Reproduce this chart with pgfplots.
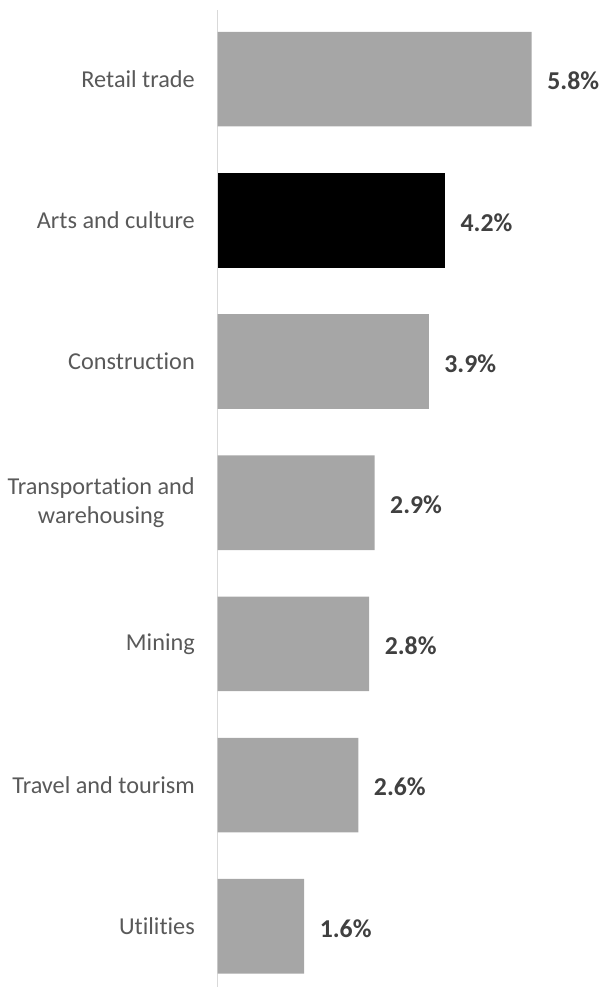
\documentclass[border=0pt]{standalone}
\usepackage{pgfplots}
\pgfplotsset{compat=1.18}
\usepackage{fontspec}
\setmainfont{Carlito}[Ligatures={NoCommon}]
\definecolor{bargray}{HTML}{A6A6A6}
\definecolor{labgray}{HTML}{595959}
\definecolor{valgray}{HTML}{404040}
\definecolor{axgray}{HTML}{D9D9D9}
\begin{document}
\begin{tikzpicture}
\path[use as bounding box] (0pt,0pt) rectangle (450.75pt,740.25pt);
\begin{axis}[
  at={(163.125pt,0pt)}, anchor=south west,
  scale only axis,
  width=286.875pt, height=732.75pt,
  xmin=0, xmax=7.06,
  ymin=-0.43, ymax=6.49,
  xbar, bar width=0.67, bar shift=0pt,
  axis x line=none,
  axis y line*=left,
  y axis line style={draw=axgray, line width=1pt, -},
  ytick={0,1,2,3,4,5,6},
  yticklabels={Utilities,Travel and tourism,Mining,{Transportation and\\warehousing},Construction,Arts and culture,Retail trade},
  major tick length=0pt,
  yticklabel style={font=\fontsize{18.2pt}{21.5pt}\selectfont, text=labgray, align=center, xshift=-13.5pt},
  /pgf/number format/assume math mode=true,
  nodes near coords={\pgfmathprintnumber[fixed,precision=1,fixed zerofill]{\pgfplotspointmeta}\%},
  nodes near coords style={font=\fontsize{19.3pt}{22pt}\selectfont\bfseries, text=valgray, anchor=west, inner sep=0pt, xshift=11.5pt, yshift=-1.5pt},
  clip=false,
]
\addplot[fill=bargray, draw=none] coordinates {(1.6,0) (2.6,1) (2.8,2) (2.9,3) (3.9,4) (5.8,6)};
\addplot[fill=black, draw=none] coordinates {(4.2,5)};
\end{axis}
\end{tikzpicture}
\end{document}
